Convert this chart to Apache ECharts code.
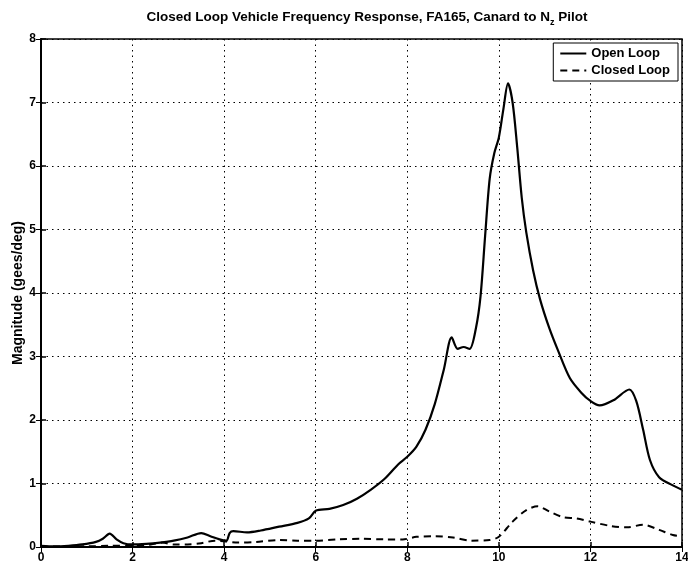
<!DOCTYPE html>
<html>
<head>
<meta charset="utf-8">
<script src="https://cdn.jsdelivr.net/npm/echarts@6/dist/echarts.min.js"></script>
<style>
  html, body { margin: 0; padding: 0; background: #fff; }
  #chart { width: 688px; height: 567px; }
</style>
</head>
<body>
<div id="chart"></div>
<script>
// frequency points and magnitude
const openFreq = [0, 0.3, 0.6, 0.9, 1.2, 1.35, 1.5, 1.65, 1.8, 2.0, 2.3, 2.6, 2.9, 3.2, 3.5, 3.7, 3.9, 4.05, 4.12, 4.2, 4.5, 4.8, 5.2, 5.6, 5.85, 6.0, 6.3, 6.6, 6.9, 7.2, 7.5, 7.8, 8.0, 8.2, 8.4, 8.6, 8.8, 8.97, 9.1, 9.23, 9.36, 9.5, 9.6, 9.7, 9.8, 9.9, 10.0, 10.1, 10.2, 10.3, 10.4, 10.5, 10.6, 10.75, 10.9, 11.1, 11.3, 11.55, 11.8, 12.0, 12.2, 12.5, 12.85, 13.0, 13.15, 13.3, 13.5, 13.8, 14.0]
const openMag = [0.02, 0.01, 0.02, 0.04, 0.08, 0.13, 0.21, 0.12, 0.06, 0.04, 0.05, 0.07, 0.1, 0.15, 0.22, 0.17, 0.12, 0.1, 0.22, 0.25, 0.23, 0.26, 0.32, 0.38, 0.45, 0.57, 0.6, 0.66, 0.76, 0.9, 1.07, 1.3, 1.42, 1.58, 1.85, 2.25, 2.8, 3.3, 3.12, 3.15, 3.12, 3.45, 3.95, 4.9, 5.8, 6.2, 6.45, 6.9, 7.3, 7.0, 6.3, 5.5, 4.95, 4.35, 3.9, 3.45, 3.08, 2.66, 2.43, 2.3, 2.23, 2.31, 2.48, 2.3, 1.85, 1.37, 1.1, 0.97, 0.9]

const closedFreq = [0, 0.5, 1.0, 1.5, 2.0, 2.4, 2.65, 2.9, 3.2, 3.5, 3.8, 4.0, 4.3, 4.7, 5.2, 5.6, 6.0, 6.5, 7.0, 7.5, 7.9, 8.2, 8.6, 9.0, 9.4, 9.8, 10.0, 10.3, 10.6, 10.85, 11.1, 11.4, 11.7, 12.0, 12.45, 12.8, 13.15, 13.5, 13.8, 14]
const closedMag = [0, 0.01, 0.01, 0.02, 0.02, 0.04, 0.07, 0.04, 0.04, 0.06, 0.1, 0.09, 0.07, 0.08, 0.11, 0.1, 0.1, 0.12, 0.13, 0.12, 0.12, 0.16, 0.17, 0.15, 0.1, 0.11, 0.16, 0.4, 0.58, 0.64, 0.56, 0.47, 0.45, 0.4, 0.33, 0.31, 0.35, 0.27, 0.19, 0.17]

const xTicks = [0, 2, 4, 6, 8, 10, 12, 14]
const yTicks = [0, 1, 2, 3, 4, 5, 6, 7, 8]

const pairs = (xs, ys) => xs.map((x, i) => [x, ys[i]])

const font = 'Arial, "Liberation Sans", Helvetica, sans-serif'
const labelStyle = { color: '#000', fontFamily: font, fontWeight: 'bold', fontSize: 12 }
// 虚线网格
const gridLine = { show: true, lineStyle: { color: '#000', width: 1, type: [1.5, 4] } }

const option = {
  animation: false,
  backgroundColor: '#fff',
  title: {
    text: 'Closed Loop Vehicle Frequency Response, FA165, Canard to N{z|z} Pilot',
    left: 362,
    textAlign: 'center',
    top: 3,
    textStyle: {
      color: '#000', fontFamily: font, fontWeight: 'bold', fontSize: 13.5,
      rich: { z: { fontFamily: font, fontWeight: 'bold', fontSize: 9, color: '#000', padding: [10, 0, 0, 0] } },
    },
  },
  legend: {
    orient: 'vertical',
    right: 10,
    top: 43,
    padding: [4, 8, 4, 6],
    itemGap: 4,
    itemWidth: 26,
    itemHeight: 10,
    borderColor: '#000',
    borderWidth: 1,
    backgroundColor: '#fff',
    itemStyle: { opacity: 0 },
    textStyle: { ...labelStyle, fontSize: 13 },
    data: ['Open Loop', 'Closed Loop'],
  },
  grid: {
    left: 41,
    right: 6,
    top: 39,
    bottom: 20,
    outerBoundsMode: 'none',
    show: true,
    borderColor: '#000',
    borderWidth: 1.5,
  },
  xAxis: [
    {
      type: 'value',
      min: xTicks[0],
      max: xTicks[xTicks.length - 1],
      interval: 2,
      axisLine: { onZero: false, lineStyle: { color: '#000', width: 2 } },
      axisTick: { inside: true, length: 5, lineStyle: { color: '#000', width: 1.5 } },
      axisLabel: { ...labelStyle, margin: 5 },
      splitLine: gridLine,
    },
    {
      type: 'value',
      position: 'top',
      min: xTicks[0],
      max: xTicks[xTicks.length - 1],
      interval: 2,
      axisLine: { show: false },
      axisTick: { inside: true, length: 5, lineStyle: { color: '#000', width: 1 } },
      axisLabel: { show: false },
      splitLine: { show: false },
    },
  ],
  yAxis: [
    {
      type: 'value',
      min: yTicks[0],
      max: yTicks[yTicks.length - 1],
      interval: 1,
      name: 'Magnitude (gees/deg)',
      nameLocation: 'middle',
      nameRotate: 90,
      nameGap: 16,
      nameMoveOverlap: false,
      nameTextStyle: { ...labelStyle, fontSize: 14 },
      axisLine: { show: true, lineStyle: { color: '#000', width: 2 } },
      axisTick: { show: true, inside: true, length: 5, lineStyle: { color: '#000', width: 1.5 } },
      axisLabel: { ...labelStyle, margin: 5 },
      splitLine: gridLine,
    },
    {
      type: 'value',
      position: 'right',
      min: yTicks[0],
      max: yTicks[yTicks.length - 1],
      interval: 1,
      axisLine: { show: false },
      axisTick: { show: true, inside: true, length: 5, lineStyle: { color: '#000', width: 1 } },
      axisLabel: { show: false },
      splitLine: { show: false },
    },
  ],
  series: [
    {
      name: 'Open Loop',
      type: 'line',
      data: pairs(openFreq, openMag),
      symbol: 'none',
      smooth: 0.3,
      color: '#000',
      lineStyle: { color: '#000', width: 2.2 },
    },
    {
      name: 'Closed Loop',
      type: 'line',
      data: pairs(closedFreq, closedMag),
      symbol: 'none',
      smooth: 0.3,
      color: '#000',
      lineStyle: { color: '#000', width: 2, type: [7, 5] },
    },
  ],
}

const chart = echarts.init(document.getElementById('chart'))
chart.setOption(option)
window.onresize = function () {
  chart.resize()
}
</script>
</body>
</html>
